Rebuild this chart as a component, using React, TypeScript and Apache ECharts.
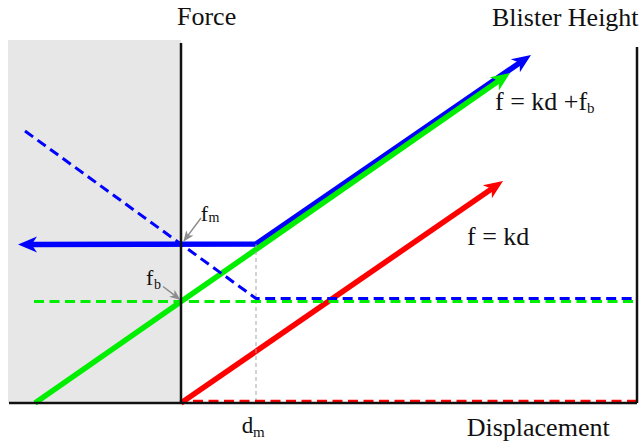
import React, { useEffect, useRef } from "react";
import * as echarts from "echarts";

// ---- data (x: displacement, y: force; origin at the Force axis) ----
const X_RANGE = [-173, 456];
const Y_RANGE = [0, 363];
const SHADED_X = [-173, 0];
const SHADED_Y = [0, 363];

const AXIS_BOTTOM = [[-172, 0], [456, 0]];
const AXIS_FORCE = [[0, 0], [0, 360]];
const AXIS_BLISTER = [[456, 0], [456, 356]];

// solid curves (last point = arrow tip; blue also has an arrow at its first point)
const RED_SOLID = [[0, 0], [322, 222]];
const GREEN_SOLID = [[-146, 0], [329, 330]];
const BLUE_SOLID = [[-163, 158.5], [75, 159], [350, 348]];

const BLUE_DASHED = [[-156, 272], [75, 104.5], [456, 104.5]];
const GREEN_DASHED = [[-147, 101.5], [456, 101.5]];
const RED_DASHED = [[12, 1.7], [456, 1.7]];
const DM_GUIDE = [[75, 159], [75, 0]];

const FM_POINTER = [[20, 185], [2.3, 161.3]];
const FB_POINTER = [[-18, 116.5], [-0.5, 103]];

const FONT = "'Liberation Serif', 'Times New Roman', serif";

type ArrowDef = {
  pts: number[][];
  color: string;
  width: number;
  both: boolean;
  len: number;
  wid: number;
};

const ARROWS: ArrowDef[] = [
  { pts: RED_SOLID, color: "#ff0000", width: 5.5, both: false, len: 19, wid: 16 },
  { pts: BLUE_SOLID, color: "#0000ff", width: 5.5, both: true, len: 19, wid: 16 },
  { pts: GREEN_SOLID, color: "#00ee00", width: 5.5, both: false, len: 19, wid: 16 },
];
const POINTERS: ArrowDef[] = [
  { pts: FM_POINTER, color: "#8c8c8c", width: 1.5, both: false, len: 11, wid: 9 },
  { pts: FB_POINTER, color: "#8c8c8c", width: 1.5, both: false, len: 11, wid: 9 },
];

function txt(text: string, x: number, baseline: number, size: number) {
  return {
    type: "text",
    x,
    y: baseline - 0.3375 * size,
    silent: true,
    z: 100,
    style: {
      text,
      fontSize: size,
      fontFamily: FONT,
      fill: "#111",
      align: "left",
      verticalAlign: "middle",
    },
  };
}

function arrowSeries(defs: ArrowDef[]) {
  return {
    type: "custom",
    coordinateSystem: "cartesian2d",
    silent: true,
    clip: false,
    data: defs.map((_, i) => [i, 0]),
    renderItem: (_params: any, api: any) => {
      const d = defs[api.value(0)];
      const px: number[][] = d.pts.map((p) => api.coord(p));
      const head = (tip: number[], prev: number[]) => {
        const dx = tip[0] - prev[0];
        const dy = tip[1] - prev[1];
        const l = Math.hypot(dx, dy) || 1;
        const u = [dx / l, dy / l];
        const n = [-u[1], u[0]];
        const bx = tip[0] - u[0] * d.len;
        const by = tip[1] - u[1] * d.len;
        const notch = d.len * 0.72;
        return {
          poly: [
            tip,
            [bx + (n[0] * d.wid) / 2, by + (n[1] * d.wid) / 2],
            [tip[0] - u[0] * notch, tip[1] - u[1] * notch],
            [bx - (n[0] * d.wid) / 2, by - (n[1] * d.wid) / 2],
          ],
          cut: [tip[0] - u[0] * d.len * 0.6, tip[1] - u[1] * d.len * 0.6],
        };
      };
      const last = px.length - 1;
      const endHead = head(px[last], px[last - 1]);
      const body = px.slice();
      body[last] = endHead.cut;
      const children: any[] = [];
      let startHead: any = null;
      if (d.both) {
        startHead = head(px[0], px[1]);
        body[0] = startHead.cut;
      }
      children.push({
        type: "polyline",
        shape: { points: body },
        style: { stroke: d.color, lineWidth: d.width, fill: "none", lineJoin: "miter", lineCap: "butt" },
      });
      children.push({ type: "polygon", shape: { points: endHead.poly }, style: { fill: d.color } });
      if (startHead) {
        children.push({ type: "polygon", shape: { points: startHead.poly }, style: { fill: d.color } });
      }
      return { type: "group", children };
    },
  };
}

export default function App() {
  const ref = useRef<HTMLDivElement>(null);
  useEffect(() => {
    if (!ref.current) return;
    const chart = echarts.init(ref.current, undefined, { renderer: "svg" });

    const plain = (data: number[][], color: string, width: number, dash?: number[] | string) => ({
      type: "line",
      data,
      symbol: "none",
      clip: false,
      silent: true,
      lineStyle: { color, width, type: dash || "solid", cap: "butt" },
    });

    const dmGuide: any = plain(DM_GUIDE, "#a5a5a5", 1, [4, 3]);
    dmGuide.markArea = {
      silent: true,
      itemStyle: { color: "#e7e7e7", opacity: 1, borderWidth: 0 },
      data: [[{ coord: [SHADED_X[0], SHADED_Y[0]] }, { coord: [SHADED_X[1], SHADED_Y[1]] }]],
    };

    chart.setOption({
      animation: false,
      grid: { left: 8, right: 4, top: 40, bottom: 43 },
      xAxis: { type: "value", min: X_RANGE[0], max: X_RANGE[1], show: false },
      yAxis: { type: "value", min: Y_RANGE[0], max: Y_RANGE[1], show: false },
      series: [
        dmGuide,
        plain(RED_DASHED, "#ff0000", 3, [10, 5.5]),
        plain(GREEN_DASHED, "#00ee00", 3, [10, 5.5]),
        arrowSeries(ARROWS),
        plain(BLUE_DASHED, "#0000ff", 3, [10, 5.5]),
        plain(AXIS_BOTTOM, "#111", 2.5),
        plain(AXIS_FORCE, "#111", 2.5),
        plain(AXIS_BLISTER, "#111", 2.5),
        arrowSeries(POINTERS),
      ],
      graphic: [
        txt("Force", 177, 25, 26),
        txt("Blister Height", 492, 26.7, 26),
        txt("f = kd +f", 495, 110, 26),
        txt("b", 587, 113, 15),
        txt("f = kd", 467, 245, 26),
        txt("f", 200.7, 221, 22),
        txt("m", 208.5, 222.3, 14),
        txt("f", 146, 285, 22),
        txt("b", 154, 289, 14),
        txt("d", 241.7, 433, 23),
        txt("m", 253, 436.7, 15),
        txt("Displacement", 466.7, 436.7, 26),
      ],
    });
    return () => chart.dispose();
  }, []);
  return (
    <div
      ref={ref}
      style={{ position: "fixed", left: 0, top: 0, width: 641, height: 446, background: "#fff" }}
    />
  );
}
